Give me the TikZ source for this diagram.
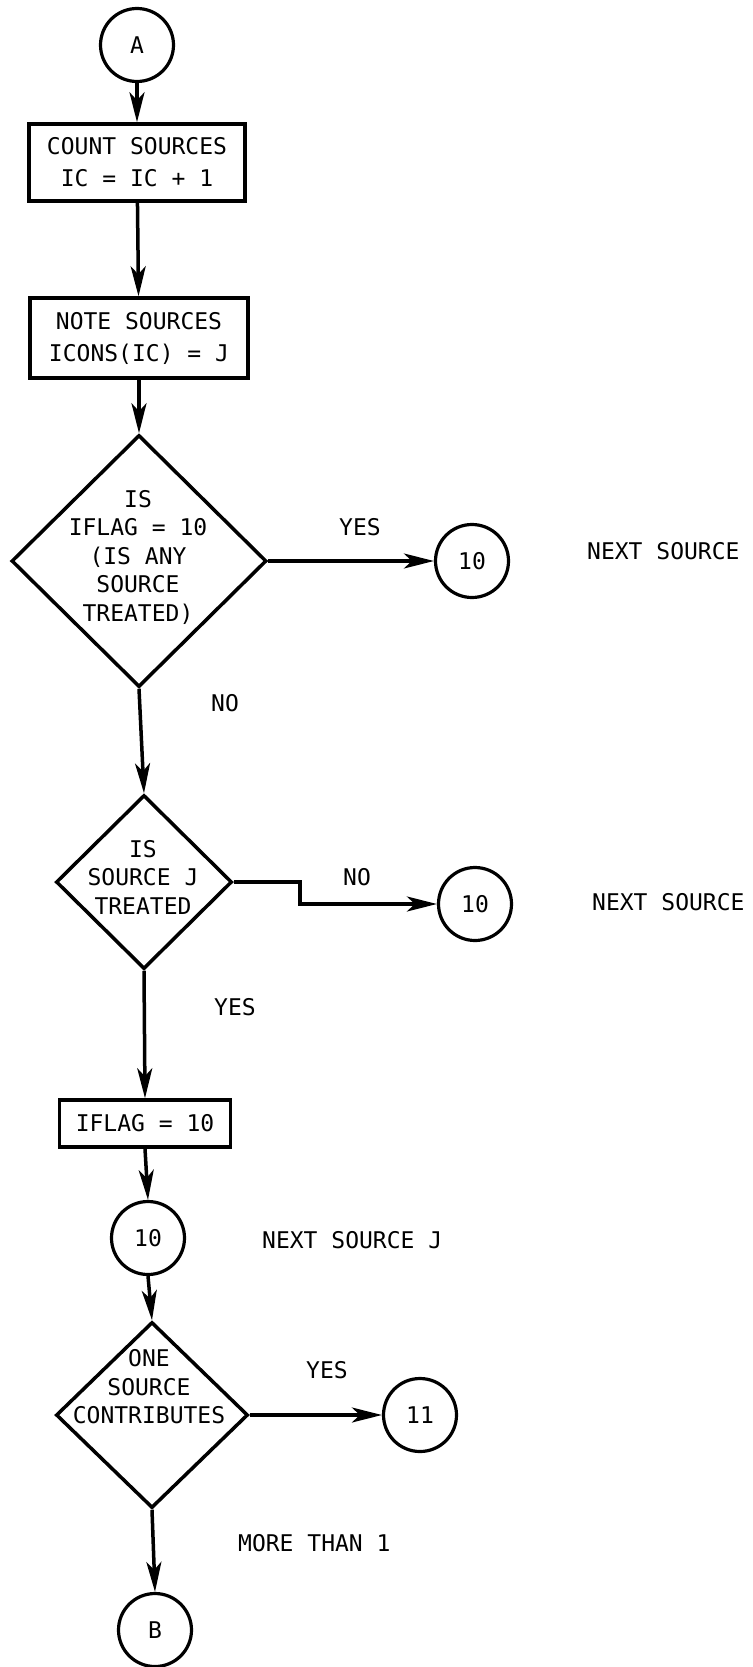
\documentclass[tikz,border=0pt]{standalone}
\usepackage{fontspec}
\setmainfont{DejaVu Sans Mono}
\usetikzlibrary{shapes.geometric,arrows.meta}
\begin{document}
\begin{tikzpicture}[x=1pt,y=-1pt,
  txt/.style={font=\fontsize{23}{28.5}\selectfont, align=center, inner sep=0pt},
  circ/.style={circle, draw, line width=3.2pt, minimum size=73pt, inner sep=0pt, font=\fontsize{23}{28}\selectfont},
  boxn/.style={rectangle, draw, line width=3.5pt, inner sep=0pt, align=center, font=\fontsize{23}{32}\selectfont},
  dia/.style={diamond, draw, line width=3.5pt, inner sep=0pt},
  conn/.style={line width=3.5pt, -{Stealth[length=30pt,width=15pt,inset=8pt]}}
]
\fill[white] (0,0) rectangle (752,1667);
\useasboundingbox (0,0) rectangle (752,1667);

% main column
\node[circ] (A) at (137,45) {A};
\node[boxn, minimum width=216pt, minimum height=77pt] (b1) at (137,162.5) {COUNT SOURCES\\IC = IC + 1};
\node[boxn, minimum width=218pt, minimum height=80pt] (b2) at (139,338) {NOTE SOURCES\\ICONS(IC) = J};

\node[dia, minimum width=255pt, minimum height=252pt] (d1) at (139,561) {};
\node[txt] (d1t) at (138,557) {IS\\IFLAG = 10\\(IS ANY\\SOURCE\\TREATED)};

\node[dia, minimum width=176pt, minimum height=174pt] (d2) at (144,882) {};
\node[txt] (d2t) at (143,877) {IS\\SOURCE J\\TREATED};

\node[boxn, minimum width=171pt, minimum height=47pt] (b3) at (145,1123.5) {IFLAG = 10};
\node[circ] (c3) at (148,1238) {10};

\node[dia, minimum width=192pt, minimum height=186pt] (d3) at (152,1415) {};
\node[txt] (d3t) at (149,1387) {ONE\\SOURCE\\CONTRIBUTES};

\node[circ] (B) at (155,1630) {B};

% right side
\node[circ] (c1) at (472,561) {10};
\node[circ] (c2) at (475,904) {10};
\node[circ] (c4) at (420,1415) {11};

% labels
\node[txt] (yes1) at (360,527) {YES};
\node[txt, anchor=west] (ns1) at (587,551) {NEXT SOURCE};
\node[txt] (no1) at (225,703) {NO};
\node[txt] (no2) at (357,877) {NO};
\node[txt, anchor=west] (ns2) at (592,902) {NEXT SOURCE};
\node[txt] (yes2) at (235,1007) {YES};
\node[txt, anchor=west] (ns3) at (262,1240) {NEXT SOURCE J};
\node[txt] (yes3) at (327,1370) {YES};
\node[txt, anchor=west] (more) at (238,1543) {MORE THAN 1};

% connectors
\draw[conn] (A) -- (b1);
\draw[conn] (b1) -- (b2);
\draw[conn] (b2.south) -- (d1.north);
\draw[conn] (d1.east) -- (c1.west);
\draw[conn] (d1.south) -- (d2.north);
\coordinate (k1) at (300,882);
\coordinate (k2) at (300,904);
\draw[conn] (d2.east) -- (k1) -- (k2) -- (c2.west);
\draw[conn] (d2.south) -- (b3.north);
\draw[conn] (b3.south) -- (c3.north);
\draw[conn] (c3.south) -- (d3.north);
\draw[conn] (d3.east) -- (c4.west);
\draw[conn] (d3.south) -- (B.north);
\end{tikzpicture}
\end{document}
